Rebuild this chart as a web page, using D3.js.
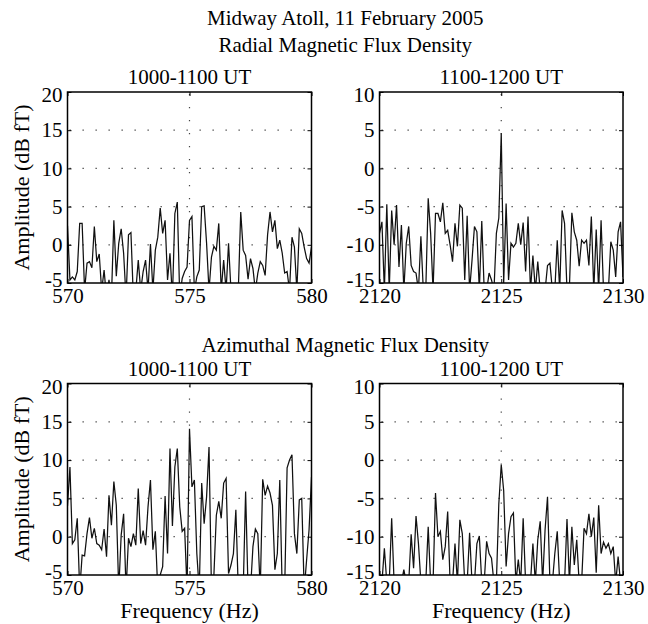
<!DOCTYPE html>
<html>
<head>
<meta charset="utf-8">
<script src="https://cdn.jsdelivr.net/npm/d3@7"></script>
<style>
  body { margin: 0; background: #fff; }
</style>
</head>
<body>
<svg id="fig" width="648" height="624"></svg>
<script>
// ---------- data (dB fT, one value every 0.1 Hz) ----------
var freqLow = [570, 580];
var freqHigh = [2120, 2130];
var ticksLow = [570, 575, 580];
var ticksHigh = [2120, 2125, 2130];
var yTicksLow = [-5, 0, 5, 10, 15, 20];
var yTicksHigh = [-15, -10, -5, 0, 5, 10];

var radialLow = [2.5, -4.6, -4.2, -4.6, -3.5, 2.8, 2.8, -6, -2.4, -2.2,
  -3, 2.4, -2.2, -1.2, -6, -3.3, -7, -4.6, -7, 3.2,
  -4.1, 0.2, 2.1, -1.1, -7, 1.3, 1.6, -7, -6, -2,
  -6, -3.5, -2, -6, 0.1, -6, -0.7, 1.0, 4.8, 1.5,
  3.2, -4.6, -1.1, -7, 4.1, 5.6, -7, -4.4, -3.5, -2.9,
  3.2, 3.7, -6, -4.2, -3.3, 5.0, 5.1, 0.2, -6, -1.6,
  -0.2, -0.7, 2.8, -6, -2, -6, 0.2, -6, -8, -7,
  -6, 4.3, -0.7, -1.4, -4.5, -1.8, -3.1, -6, -3.7, -2.2,
  -2.7, -4.0, 1.3, 4.3, 1.7, 3.2, -0.5, 0.6, -1.1, -3.7,
  -3.5, -6, 1.0, -0.3, -6, 2.1, 1.5, -0.3, -1.8, -2.4,
  -0.3];

var radialHigh = [-8.5, -7.0, -16, -4.7, -16, -5.5, -10, -4.8, -12.9, -7.4,
  -16, -9.8, -7.6, -12.7, -13.5, -13.7, -16, -8.9, -16, -16,
  -3.9, -8.5, -16, -5.9, -5.9, -7.0, -4.5, -8.5, -8.1, -10,
  -12.2, -7.2, -10.2, -4.8, -5.2, -14.6, -6.2, -16, -12, -7.6,
  -8.3, -16, -6.9, -16, -16, -13.7, -14.6, -16, -8.5, -6.5,
  4.6, -15, -4.6, -14.6, -9.8, -10.3, -9.8, -7.2, -10, -7.1,
  -13.5, -6.3, -16, -11.4, -16, -12.2, -16, -17, -16, -12.7,
  -12.4, -16, -16, -9.4, -16, -5.5, -7.2, -16, -15.5, -5.8,
  -8.3, -9.4, -12.8, -9.4, -9.8, -9.4, -12.7, -6.3, -16, -8,
  -16, -6.8, -16, -15.5, -16, -9.6, -10.7, -14.2, -8.3, -7.0,
  -14.2];

var azimLow = [4, 9.1, -0.9, -0.4, 2.4, -7, -2.4, -2.5, 0.4, 2.5,
  -0.2, 1.1, -0.9, -1.1, -1.7, 1.0, -2.6, 5.4, 1.5, 7.2,
  4.1, -7, 0.2, 3.0, -7, -0.2, -1.3, 0.4, -1.1, 6.3,
  -0.9, 0.8, -1.1, 3.9, 7.4, -1.7, 0.7, -7, -5, -3.9,
  5.3, -2.2, 11.5, 1.4, 9.1, 11.5, 3.9, 0.7, 1.1, -7,
  14.1, 6.5, 7.4, -2.2, -7, 7, 1.7, 5.2, 11.7, -7,
  -5, 2.8, 4.6, 2.4, 7, 7.6, -4.8, -3.7, -2.2, 3.5,
  -7, -7, -7, 5.9, -7, -7, -1.3, 1.0, 0.4, -7,
  7.5, 5.4, 6.6, 5.7, 4.1, -4.3, -2.2, 7.4, -7, -7,
  9.0, 10, 10.7, 0.4, -2.2, 4.8, 5, -7, -3, 0.9,
  7.8];

var azimHigh = [-16, -16, -11.5, -16, -16, -7.6, -16, -16, -16, -16,
  -14.3, -16, -16, -9.7, -14.1, -7.3, -10.9, -16, -16, -16,
  -8.7, -16, -16, -4.3, -10, -9.3, -13, -11.3, -6.7, -16,
  -16, -10.9, -16, -7.8, -9.6, -16, -16, -9.5, -16, -16,
  -10.9, -9.9, -16, -16, -10.6, -12.2, -12.8, -16, -16, -5.7,
  -0.6, -4, -13.9, -9.6, -7.4, -6.9, -16, -13, -16, -7.6,
  -16, -16, -16, -10.9, -16, -10.4, -8.0, -16, -9.1, -4.8,
  -16, -16, -12.2, -9.3, -16, -16, -16, -7.7, -16, -8.7,
  -13.7, -10.4, -16, -16, -8.9, -9.6, -7, -10, -7.5, -14.7,
  -5.9, -12.2, -10.7, -11.5, -10.9, -12.2, -11.3, -16, -12.6, -16,
  -16];

var titles = ["Midway Atoll, 11 February 2005", "Radial Magnetic Flux Density", "Azimuthal Magnetic Flux Density"];
var hours = ["1000-1100 UT", "1100-1200 UT"];

// ---------- layout ----------
var police = "'Liberation Serif', 'Times New Roman', Times, serif";
var svg = d3.select("#fig").attr("font-family", police);
var colX = [[67.5, 311.5], [379.5, 623]];
var rowY = [[92, 283], [383.5, 575]];
var tickFont = 21, labelFont = 22;

var panels = [
  {col: 0, row: 0, fr: freqLow, xt: ticksLow, yt: yTicksLow, vals: radialLow},
  {col: 1, row: 0, fr: freqHigh, xt: ticksHigh, yt: yTicksHigh, vals: radialHigh},
  {col: 0, row: 1, fr: freqLow, xt: ticksLow, yt: yTicksLow, vals: azimLow},
  {col: 1, row: 1, fr: freqHigh, xt: ticksHigh, yt: yTicksHigh, vals: azimHigh}
];

function texte(sel) {
  return sel.attr("font-family", police).style("font-family", police).attr("fill", "#000");
}

function dessinerPanneau(p, k) {
  var x0 = colX[p.col][0], x1 = colX[p.col][1];
  var y0 = rowY[p.row][0], y1 = rowY[p.row][1];
  var x = d3.scaleLinear().domain(p.fr).range([x0, x1]);
  var y = d3.scaleLinear().domain([p.yt[0], p.yt[p.yt.length - 1]]).range([y1, y0]);
  var g = svg.append("g");

  // grille pointillée
  g.selectAll(".gy").data(p.yt.slice(1, -1)).enter().append("line")
    .attr("x1", x0).attr("x2", x1)
    .attr("y1", d => y(d)).attr("y2", d => y(d))
    .attr("stroke", "#444").attr("stroke-width", 1.2)
    .attr("stroke-dasharray", "1.3,11.7").attr("stroke-dashoffset", -2);
  g.selectAll(".gx").data(p.xt.slice(1, -1)).enter().append("line")
    .attr("x1", d => x(d)).attr("x2", d => x(d))
    .attr("y1", y0).attr("y2", y1)
    .attr("stroke", "#444").attr("stroke-width", 1.2)
    .attr("stroke-dasharray", "1.3,11.7").attr("stroke-dashoffset", -2);

  // courbe
  var clipId = "clip" + k;
  svg.append("clipPath").attr("id", clipId).append("rect")
    .attr("x", x0).attr("y", y0).attr("width", x1 - x0).attr("height", y1 - y0);
  var pts = p.vals.map((v, i) => [p.fr[0] + i * 0.1, v]);
  g.append("path")
    .attr("d", d3.line().x(d => x(d[0])).y(d => y(d[1]))(pts))
    .attr("clip-path", "url(#" + clipId + ")")
    .attr("fill", "none").attr("stroke", "#111").attr("stroke-width", 1.25);

  // axes, ticks vers l'intérieur
  var axB = g.append("g").attr("transform", "translate(0," + y1 + ")")
    .call(d3.axisBottom(x).tickValues(p.xt).tickFormat(d3.format("d"))
      .tickSizeInner(-4).tickSizeOuter(0).tickPadding(5));
  var axL = g.append("g").attr("transform", "translate(" + x0 + ",0)")
    .call(d3.axisLeft(y).tickValues(p.yt).tickFormat(d3.format("d"))
      .tickSizeInner(-4).tickSizeOuter(0).tickPadding(5));
  g.append("g").attr("transform", "translate(0," + y0 + ")")
    .call(d3.axisTop(x).tickValues(p.xt).tickFormat("").tickSizeInner(-4).tickSizeOuter(0));
  g.append("g").attr("transform", "translate(" + x1 + ",0)")
    .call(d3.axisRight(y).tickValues(p.yt).tickFormat("").tickSizeInner(-4).tickSizeOuter(0));
  g.selectAll(".domain").remove();
  g.selectAll("g").attr("font-family", police);
  g.selectAll(".tick line").attr("stroke", "#000").attr("stroke-width", 1);
  texte(axB.selectAll("text")).attr("font-size", tickFont);
  texte(axL.selectAll("text")).attr("font-size", tickFont);
  axL.selectAll(".tick text").filter(d => d < 0).text(d => "-" + Math.abs(d));
  // les étiquettes extrêmes sont un peu rentrées, comme sur l'original
  var yMin = p.yt[0], yMax = p.yt[p.yt.length - 1];
  axL.selectAll(".tick text").attr("y", d => d == yMin ? -3 : (d == yMax ? 3 : 0));

  g.append("rect").attr("x", x0).attr("y", y0)
    .attr("width", x1 - x0).attr("height", y1 - y0)
    .attr("fill", "none").attr("stroke", "#000").attr("stroke-width", 1.5);

  // titre du sous-graphe
  texte(g.append("text")).attr("x", (x0 + x1) / 2).attr("y", y0 - 8)
    .attr("text-anchor", "middle").attr("font-size", tickFont)
    .text(hours[p.col]);

  if (p.col == 0) {
    texte(g.append("text"))
      .attr("transform", "translate(29," + ((y0 + y1) / 2) + ") rotate(-90)")
      .attr("text-anchor", "middle").attr("font-size", labelFont)
      .text("Amplitude (dB fT)");
  }
  if (p.row == 1) {
    texte(g.append("text")).attr("x", (x0 + x1) / 2).attr("y", 618)
      .attr("text-anchor", "middle").attr("font-size", labelFont)
      .text("Frequency (Hz)");
  }
}

panels.forEach(dessinerPanneau);

// titres principaux
var cx = (colX[0][0] + colX[1][1]) / 2;
[[titles[0], 25], [titles[1], 52], [titles[2], 352]].forEach(function (t) {
  texte(svg.append("text")).attr("x", cx).attr("y", t[1]).attr("text-anchor", "middle")
    .attr("font-size", tickFont).text(t[0]);
});
</script>
</body>
</html>
